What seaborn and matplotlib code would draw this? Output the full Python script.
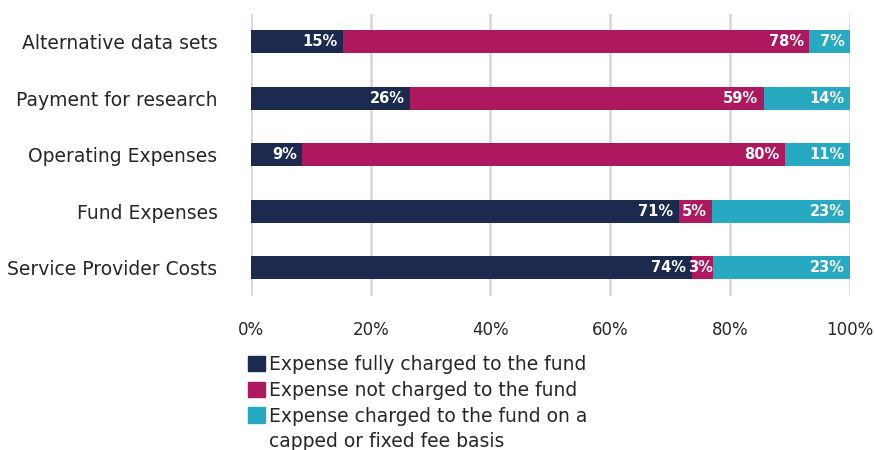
import pandas as pd
import seaborn as sns
import matplotlib.pyplot as plt
from matplotlib.patches import Patch

# Données (largeurs des segments en %)
categories = ['Alternative data sets', 'Payment for research', 'Operating Expenses',
              'Fund Expenses', 'Service Provider Costs']
fully_charged = [15.4, 26.6, 8.6, 71.4, 73.6]
not_charged = [77.8, 59.0, 80.5, 5.6, 3.5]
capped_fee = [6.8, 14.4, 10.9, 23.0, 22.9]

# Étiquettes affichées sur les barres
fully_labels = ['15%', '26%', '9%', '71%', '74%']
not_labels = ['78%', '59%', '80%', '5%', '3%']
capped_labels = ['7%', '14%', '11%', '23%', '23%']

series_names = ['Expense fully charged to the fund',
                'Expense not charged to the fund',
                'Expense charged to the fund on a',
                'capped or fixed fee basis']
colors = ['#1B2A4E', '#AD185E', '#26A9C1']

df = pd.DataFrame({'Category': categories, 'fully': fully_charged,
                   'not': not_charged, 'capped': capped_fee})
df['c1'] = df['fully']
df['c2'] = df['c1'] + df['not']
df['c3'] = df['c2'] + df['capped']

sns.set_style('white')
plt.rcParams['font.family'] = ['DejaVu Sans']

fig = plt.figure(figsize=(8.74, 4.5), dpi=100)
ax = fig.add_axes([0.287, 0.342, 0.6855, 0.628])

# Barres empilées : on dessine les cumuls du plus grand au plus petit
for col, color in zip(['c3', 'c2', 'c1'], colors[::-1]):
    sns.barplot(data=df, x=col, y='Category', color=color, orient='h',
                width=0.41, ax=ax, saturation=1, linewidth=0, zorder=3)

# Étiquettes à la fin de chaque segment (moins de marge si le segment est étroit)
for i in range(len(categories)):
    segs = [(df['c1'][i], df['fully'][i], fully_labels[i]),
            (df['c2'][i], df['not'][i], not_labels[i]),
            (df['c3'][i], df['capped'][i], capped_labels[i])]
    for end, width, lab in segs:
        off = -4 if width > 4 else 0
        ax.annotate(lab, xy=(end, i), xytext=(off, 0), textcoords='offset points',
                    ha='right', va='center', color='white', fontsize=10.5,
                    fontweight='bold', zorder=5)

ax.set_xlim(0, 100)
ax.set_ylim(4.5, -0.5)
ax.set_xticks([0, 20, 40, 60, 80, 100])
ax.set_xticklabels(['0%', '20%', '40%', '60%', '80%', '100%'])
ax.xaxis.grid(True, color='#D9D9D9', linewidth=2, zorder=0)
ax.set_axisbelow(True)
ax.set_xlabel('')
ax.set_ylabel('')
ax.tick_params(axis='x', labelsize=12, colors='#262626', length=0, pad=18)
ax.tick_params(axis='y', labelsize=13.5, colors='#262626', length=0, pad=24)
sns.despine(ax=ax, left=True, bottom=True)

# Légende en bas à gauche, style Excel
handles = [Patch(color=colors[0]), Patch(color=colors[1]), Patch(color=colors[2]),
           Patch(color='none')]
fig.legend(handles, series_names, loc='upper left', bbox_to_anchor=(0.284, 0.211),
           frameon=False, fontsize=13.5, handlelength=0.9, handleheight=0.9,
           handletextpad=0.2, labelspacing=0.36, borderpad=0, borderaxespad=0,
           labelcolor='#262626')

plt.savefig('out.png', dpi=100)
